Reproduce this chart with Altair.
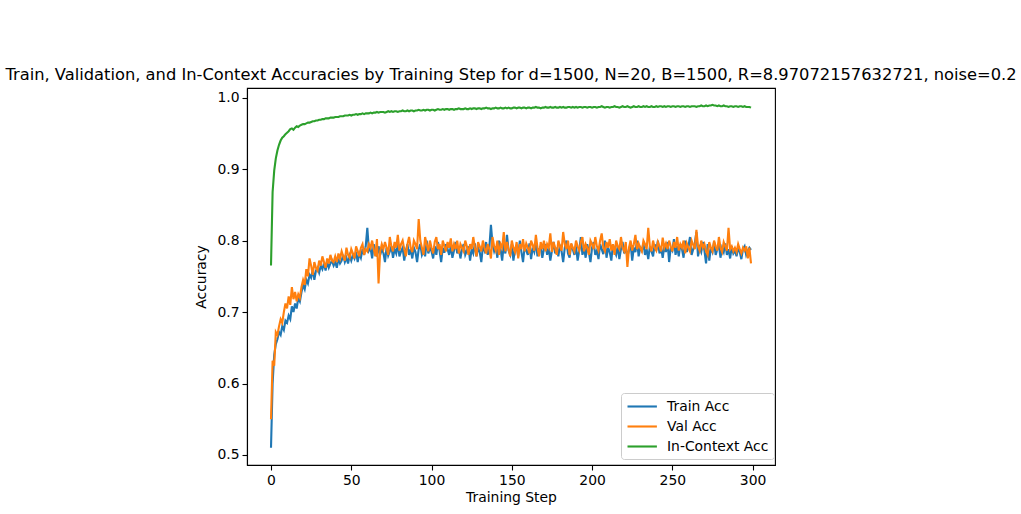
import altair as alt
import pandas as pd

# Accuracy per training step, in thousandths (0..299)
train_acc = [
    510, 600, 640, 655, 662, 672, 668, 680, 675, 688,
    685, 695, 690, 708, 700, 712, 705, 720, 715, 728,
    738, 732, 745, 740, 752, 748, 760, 745, 758, 762,
    755, 765, 760, 768, 758, 770, 762, 768, 772, 765,
    770, 762, 775, 768, 772, 780, 770, 776, 768, 779,
    772, 780, 775, 784, 770, 782, 776, 788, 780, 792,
    818, 786, 790, 775, 795, 785, 778, 792, 780, 788,
    783, 770, 790, 779, 785, 792, 776, 788, 782, 795,
    778, 785, 790, 772, 786, 795, 780, 788, 775, 790,
    784, 770, 788, 795, 780, 786, 778, 800, 782, 790,
    785, 775, 792, 780, 798, 786, 770, 790, 783, 795,
    788, 780, 792, 776, 786, 798, 782, 790, 775, 788,
    795, 780, 786, 792, 772, 788, 782, 796, 778, 790,
    784, 770, 792, 786, 798, 780, 790, 822, 795, 785,
    792, 776, 800, 788, 772, 795, 782, 808, 786, 780,
    795, 772, 788, 792, 778, 800, 784, 770, 792, 786,
    780, 796, 774, 790, 784, 798, 778, 788, 792, 776,
    788, 795, 780, 790, 772, 786, 798, 782, 790, 778,
    794, 785, 770, 790, 800, 782, 776, 795, 788, 780,
    792, 772, 786, 805, 780, 790, 776, 795, 784, 770,
    790, 798, 780, 786, 774, 795, 788, 781, 800, 776,
    790, 784, 772, 795, 786, 780, 792, 774, 788, 798,
    782, 790, 778, 786, 796, 772, 790, 784, 800, 778,
    790, 786, 796, 780, 788, 774, 792, 785, 778, 795,
    786, 800, 782, 790, 776, 792, 784, 798, 770, 790,
    786, 802, 780, 792, 778, 795, 788, 776, 800, 784,
    792, 805, 780, 788, 796, 812, 778, 790, 784, 798,
    786, 768, 795, 772, 790, 784, 798, 780, 788, 794,
    776, 790, 784, 796, 780, 788, 775, 792, 782, 786,
    778, 790, 784, 774, 788, 792, 780, 786, 790, 787,
]

val_acc = [
    550, 632, 625, 672, 668, 680, 690, 685, 700, 712,
    705, 722, 710, 735, 718, 728, 715, 725, 720, 735,
    745, 738, 760, 750, 775, 765, 752, 770, 762, 758,
    772, 765, 778, 770, 762, 775, 768, 780, 772, 770,
    778, 770, 782, 775, 785, 778, 772, 790, 780, 776,
    788, 782, 775, 792, 785, 778, 790, 795, 780, 788,
    785, 795, 790, 800, 788, 778, 802, 740, 785, 795,
    788, 798, 790, 780, 805, 792, 785, 798, 790, 808,
    786, 795, 800, 788, 778, 795, 805, 790, 784, 800,
    795, 788, 830, 800, 790, 780, 805, 795, 785, 800,
    790, 782, 798, 805, 788, 795, 780, 800, 792, 785,
    798, 790, 803, 785, 795, 788, 800, 782, 795, 790,
    785, 800, 792, 780, 795, 788, 805, 790, 778, 798,
    792, 785, 800, 790, 782, 795, 788, 775, 805, 792,
    786, 800, 780, 795, 790, 812, 785, 798, 788, 778,
    800, 790, 784, 798, 775, 795, 788, 802, 785, 796,
    790, 782, 800, 794, 786, 808, 790, 778, 798, 788,
    800, 785, 795, 790, 810, 784, 798, 790, 780, 800,
    792, 786, 812, 795, 788, 800, 780, 796, 790, 785,
    800, 792, 786, 798, 805, 785, 795, 790, 780, 800,
    795, 788, 805, 792, 786, 800, 810, 790, 785, 798,
    790, 802, 786, 795, 780, 800, 792, 788, 805, 790,
    785, 798, 763, 790, 800, 786, 795, 808, 788, 796,
    790, 785, 800, 795, 788, 818, 792, 785, 800, 790,
    786, 798, 792, 785, 804, 790, 796, 788, 800, 792,
    785, 798, 790, 805, 786, 795, 790, 800, 782, 796,
    790, 785, 800, 794, 788, 815, 792, 786, 800, 790,
    795, 785, 780, 798, 790, 785, 800, 792, 786, 805,
    790, 784, 798, 792, 786, 818, 788, 792, 785, 790,
    784, 795, 788, 782, 790, 786, 792, 775, 790, 768,
]

in_context_acc = [
    765, 868, 898, 915, 926, 934, 940, 944, 946, 949,
    951, 953, 956, 957, 955, 958, 960, 959, 961, 962,
    963, 963, 964, 965, 965, 966, 967, 967, 968, 968,
    969, 969, 970, 970, 971, 971, 971, 972, 972, 972,
    973, 973, 973, 974, 974, 974, 975, 975, 975, 976,
    975, 976, 976, 977, 976, 977, 977, 978, 977, 978,
    978, 978, 979, 978, 979, 979, 980, 979, 980, 980,
    980, 979, 980, 981, 980, 981, 980, 981, 981, 980,
    981, 981, 982, 981, 981, 982, 981, 982, 982, 981,
    982, 982, 983, 982, 982, 983, 982, 983, 983, 982,
    983, 983, 982, 983, 984, 983, 983, 984, 983, 984,
    984, 983, 984, 984, 983, 984, 984, 985, 984, 984,
    984, 985, 984, 984, 985, 984, 985, 985, 984, 985,
    985, 984, 985, 985, 986, 985, 985, 984, 985, 985,
    986, 985, 985, 986, 985, 985, 986, 985, 986, 985,
    985, 986, 986, 985, 986, 986, 985, 986, 986, 985,
    986, 986, 985, 986, 986, 987, 986, 986, 985, 986,
    986, 987, 986, 986, 987, 986, 986, 987, 986, 986,
    987, 986, 987, 986, 986, 987, 987, 986, 987, 986,
    987, 986, 987, 987, 986, 987, 987, 986, 987, 987,
    986, 987, 987, 986, 987, 987, 988, 987, 986, 987,
    987, 986, 987, 987, 988, 987, 987, 986, 987, 988,
    987, 987, 988, 987, 986, 987, 988, 987, 987, 988,
    987, 987, 988, 987, 988, 987, 987, 988, 987, 987,
    988, 987, 988, 988, 987, 988, 987, 988, 988, 987,
    988, 988, 987, 988, 988, 987, 988, 988, 987, 988,
    988, 987, 988, 988, 988, 987, 988, 988, 989, 988,
    988, 989, 988, 989, 989, 990, 989, 989, 988, 989,
    988, 988, 989, 988, 988, 987, 988, 988, 987, 988,
    988, 987, 988, 988, 987, 988, 987, 987, 987, 986,
]

series_names = ["Train Acc", "Val Acc", "In-Context Acc"]
series_colors = ["#1f77b4", "#ff7f0e", "#2ca02c"]
x_ticks = [0, 50, 100, 150, 200, 250, 300]
y_ticks = [0.5, 0.6, 0.7, 0.8, 0.9, 1.0]

rows = []
for name, values in zip(series_names, [train_acc, val_acc, in_context_acc]):
    for step, v in enumerate(values):
        rows.append({"step": step, "acc": v / 1000.0, "series": name})
df = pd.DataFrame(rows)

FONT = "DejaVu Sans"

chart = (
    alt.Chart(df)
    .mark_line(strokeWidth=2.1, clip=True)
    .encode(
        x=alt.X(
            "step:Q",
            title="Training Step",
            scale=alt.Scale(domain=[-14.95, 313.95], nice=False, zero=False),
            axis=alt.Axis(values=x_ticks, format="d", labelFlush=False),
        ),
        y=alt.Y(
            "acc:Q",
            title="Accuracy",
            scale=alt.Scale(domain=[0.486, 1.0135], nice=False, zero=False),
            axis=alt.Axis(values=y_ticks, format=".1f", titlePadding=8),
        ),
        color=alt.Color(
            "series:N",
            sort=series_names,
            scale=alt.Scale(domain=series_names, range=series_colors),
            legend=alt.Legend(
                title=None,
                orient="none",
                legendX=374,
                legendY=305,
                # short horizontal line swatch, offset so it starts at the box padding
                symbolType="M-1,0H3.2",
                symbolSize=196,
                symbolStrokeWidth=2.1,
                labelFont=FONT,
                labelFontSize=13.9,
                labelColor="black",
                labelOffset=24,
                padding=5,
                rowPadding=4,
                fillColor="white",
                strokeColor="#cccccc",
                cornerRadius=3,
            ),
        ),
        detail="series:N",
    )
    .properties(
        width=528,
        height=377,
        background="white",
        autosize=alt.AutoSizeParams(type="none"),
        padding={"left": 247, "top": 88, "right": 246, "bottom": 49},
        title=alt.TitleParams(
            text="Train, Validation, and In-Context Accuracies by Training Step for d=1500, N=20, B=1500, R=8.97072157632721, noise=0.2",
            font=FONT,
            fontSize=16.3,
            fontWeight="normal",
            color="black",
            anchor="middle",
            frame="group",
            offset=5,
        ),
    )
    .configure_view(stroke="black", strokeWidth=1.1)
    .configure_axis(
        grid=False,
        domainColor="black",
        domainWidth=1.1,
        tickColor="black",
        tickWidth=1.1,
        tickSize=5,
        labelPadding=3,
        labelFont=FONT,
        labelFontSize=13.9,
        labelColor="black",
        titleFont=FONT,
        titleFontSize=13.9,
        titleFontWeight="normal",
        titleColor="black",
    )
)

chart.save("out.html", embed_options={"renderer": "svg", "actions": False})
